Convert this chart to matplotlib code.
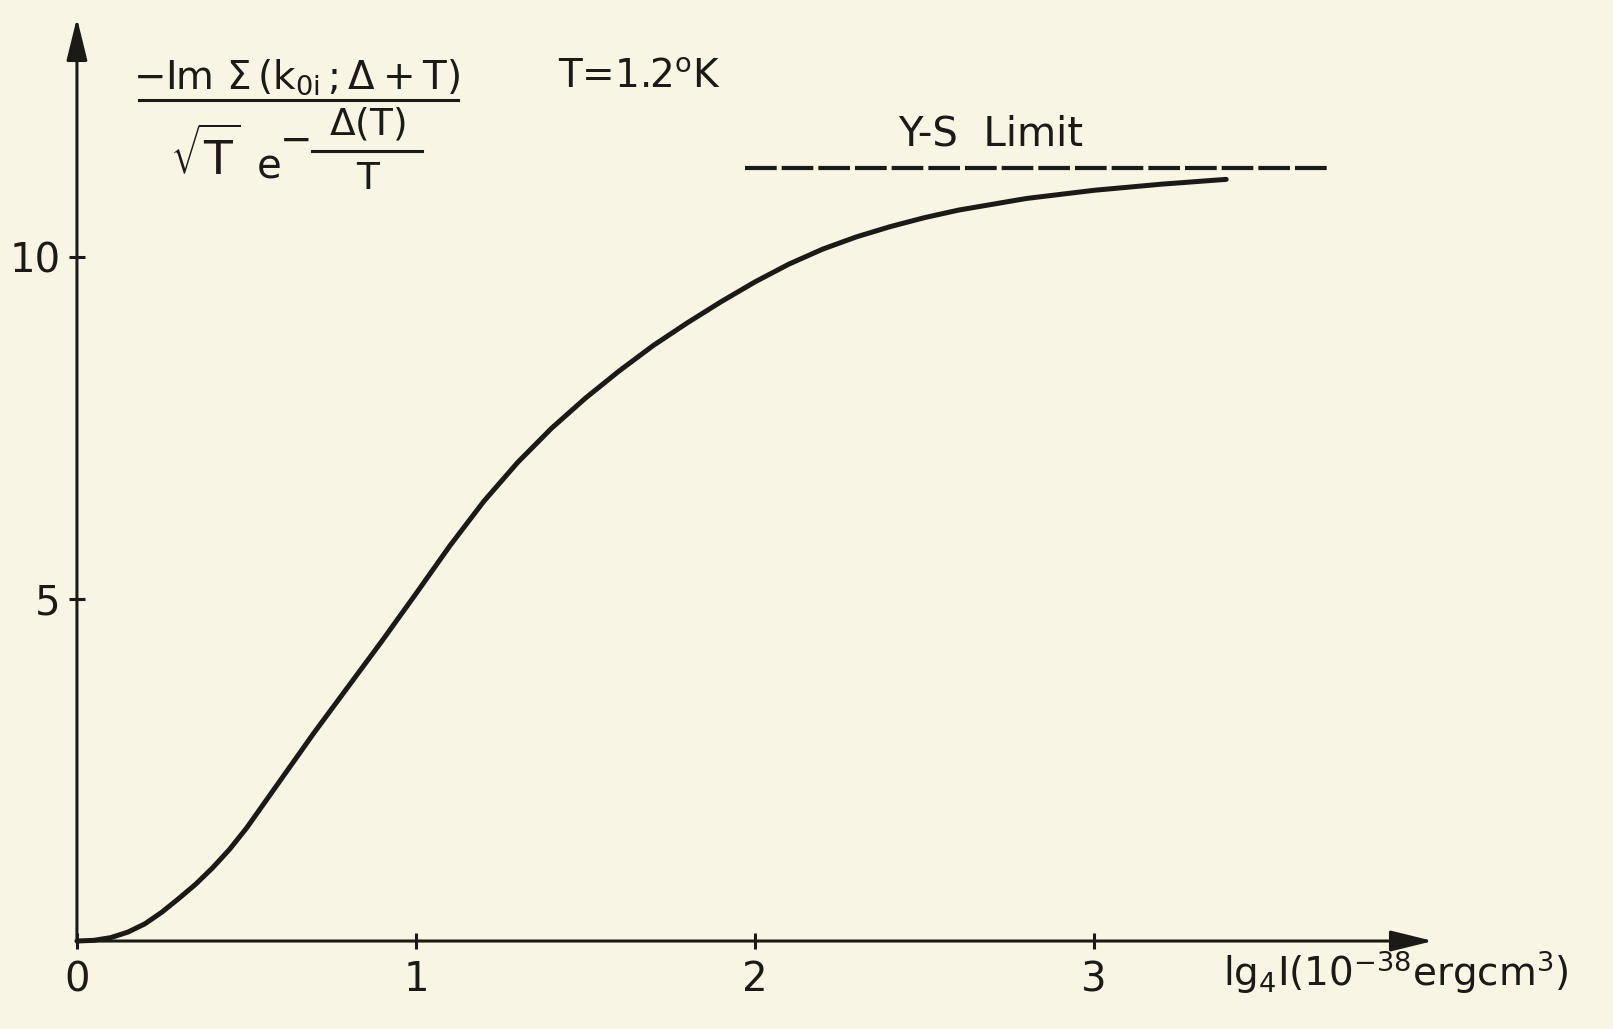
import numpy as np
import matplotlib
matplotlib.use('Agg')
import matplotlib.pyplot as plt

plt.rcParams['font.family'] = ['DejaVu Sans']
plt.rcParams['mathtext.fontset'] = 'dejavusans'

# values
lg_I = [0.0, 0.05, 0.1, 0.15, 0.2, 0.25, 0.3, 0.35, 0.4, 0.45, 0.5, 0.6,
        0.7, 0.8, 0.9, 1.0, 1.1, 1.2, 1.3, 1.4, 1.5, 1.6, 1.7, 1.8, 1.9,
        2.0, 2.1, 2.2, 2.3, 2.4, 2.5, 2.6, 2.8, 3.0, 3.2, 3.39]
im_sigma = [0.0, 0.01, 0.05, 0.13, 0.25, 0.42, 0.62, 0.83, 1.07, 1.34,
            1.65, 2.35, 3.05, 3.72, 4.39, 5.08, 5.78, 6.43, 7.0, 7.5, 7.94,
            8.34, 8.71, 9.04, 9.35, 9.64, 9.9, 10.12, 10.3, 10.45, 10.58,
            10.69, 10.86, 10.98, 11.07, 11.14]

ys_limit = 11.3
ys_x = [1.97, 3.69]

x_ticks = [0, 1, 2, 3]
y_ticks = [5, 10]

ink = '#1b1a17'
paper = '#f8f5e4'

fig = plt.figure(figsize=(16.13, 10.29), dpi=100)
fig.patch.set_facecolor(paper)
ax = fig.add_axes([0.0477, 0.0855, 0.8407, 0.897])
ax.set_facecolor('none')
ax.set_xlim(0, 4.0)
ax.set_ylim(0, 13.5)
for s in ax.spines.values():
    s.set_visible(False)

# axes drawn as arrows
arrow = dict(arrowstyle='-|>,head_length=1.3,head_width=0.32', lw=2.2,
             color=ink, shrinkA=0, shrinkB=0, mutation_scale=20)
ax.annotate('', xy=(0, 13.5), xytext=(0, 0), arrowprops=arrow,
            annotation_clip=False)
ax.annotate('', xy=(4.0, 0), xytext=(0, 0), arrowprops=arrow,
            annotation_clip=False)

ax.set_xticks(x_ticks)
ax.set_xticklabels([str(t) for t in x_ticks])
ax.set_yticks(y_ticks)
ax.set_yticklabels([str(t) for t in y_ticks])
ax.tick_params(direction='inout', length=12, width=2.2, color=ink,
               labelcolor=ink, labelsize=29)
ax.tick_params(axis='x', pad=8)
ax.tick_params(axis='y', pad=6)

ax.plot(lg_I, im_sigma, color=ink, lw=3.6, solid_capstyle='round',
        solid_joinstyle='round', clip_on=False)
ax.plot(ys_x, [ys_limit, ys_limit], color=ink, lw=3.0,
        linestyle=(0, (7.6, 1.2)), clip_on=False)

ax.text(2.695, 11.8, 'Y-S  Limit', fontsize=29, color=ink,
        ha='center', va='center')

# the y-quantity written as a fraction
ax.text(0.647, 12.63,
        r'$-\mathrm{Im}\ \Sigma\,(\mathrm{k}_{0\mathrm{i}}\,;\Delta+\mathrm{T})$',
        fontsize=28, color=ink, ha='center', va='center')
ax.plot([0.183, 1.123], [12.30, 12.30], color=ink, lw=2.2, clip_on=False)
ax.text(0.38, 11.45, r'$\sqrt{\mathrm{T}}$', fontsize=34, color=ink,
        ha='center', va='center')
ax.text(0.568, 11.31, 'e', fontsize=29, color=ink, ha='center',
        va='center')
ax.text(0.646, 11.7, '\u2212', fontsize=28, color=ink, ha='center',
        va='center')
ax.text(0.856, 11.95, r'$\Delta(\mathrm{T})$', fontsize=27, color=ink,
        ha='center', va='center')
ax.plot([0.692, 1.017], [11.55, 11.55], color=ink, lw=2.2, clip_on=False)
ax.text(0.856, 11.14, 'T', fontsize=27, color=ink, ha='center',
        va='center')

ax.text(1.66, 12.63, r'T=1.2$^{\mathrm{o}}$K', fontsize=28, color=ink,
        ha='center', va='center')

ax.text(3.38, -0.45, r'lg$_4$I(10$^{-38}$ergcm$^3$)', fontsize=28,
        color=ink, ha='left', va='center', clip_on=False)

fig.savefig('out.png', dpi=100, facecolor=fig.get_facecolor())
